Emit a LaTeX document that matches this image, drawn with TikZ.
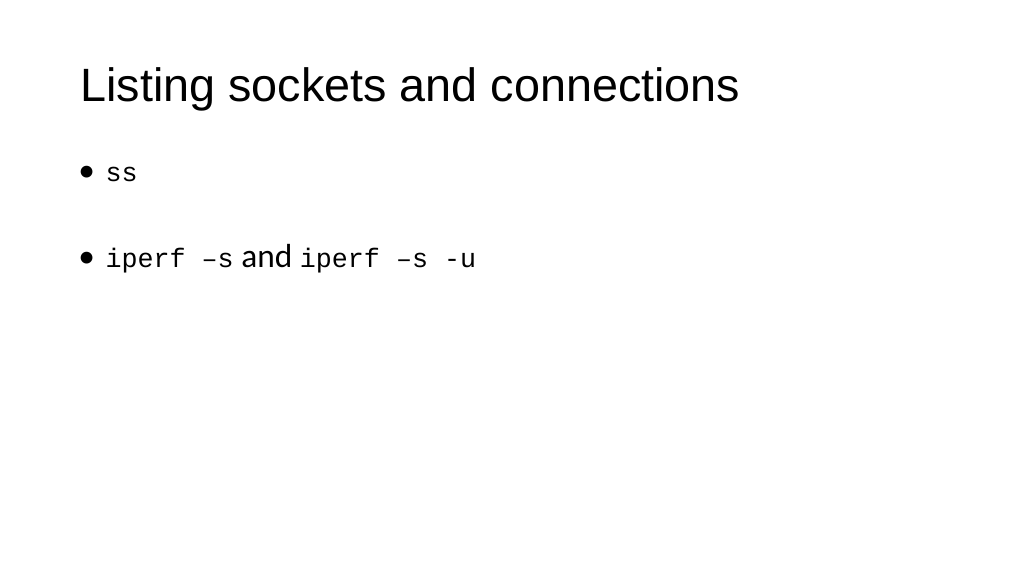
\documentclass[tikz,border=0pt]{standalone}
\usepackage{fontspec}
\setmainfont{Liberation Sans}
\newfontfamily\bodyfont{Carlito}
\newfontfamily\codefont{Liberation Mono}
\newcommand\code[1]{{\codefont\fontsize{15.2}{18}\selectfont #1}}
\begin{document}
\begin{tikzpicture}[
            x = 0.02cm, y = -0.02cm, % one unit per pixel
            title/.style = {anchor = base west, inner sep = 0pt, font = \fontsize{26.6}{31}\selectfont},
            item/.style = {anchor = base west, inner sep = 0pt, font = \bodyfont\fontsize{19}{23}\selectfont}
        ]
    % Page
    \useasboundingbox (0, 0) rectangle (1024, 576);
    \fill[white] (0, 0) rectangle (1024, 576);

    % Title and bullets
    \node[title] (head) at (80, 101) {Listing sockets and connections};
    \node[item] (ss) at (78, 181) {•\hspace{6pt}\code{ss}};
    \node[item] (iperf) at (78, 267) {•\hspace{6pt}\code{iperf –s} and \code{iperf –s -u}};
\end{tikzpicture}
\end{document}
